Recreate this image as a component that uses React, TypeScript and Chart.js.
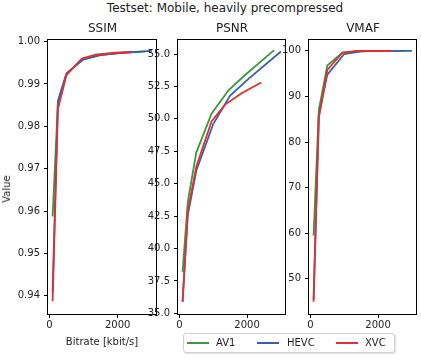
import React, { useEffect, useRef } from "react";
import { Chart, registerables } from "chart.js";

Chart.register(...registerables);

const FONT = "'DejaVu Sans', sans-serif";
const TEXT = "#222";

const codecNames = ["AV1", "HEVC", "XVC"];
const codecColors = ["#3a9a3a", "#3560b0", "#e03030"];

const av1Bitrate = [95, 250, 500, 950, 1450, 1950, 2800];
const hevcBitrate = [95, 250, 500, 1000, 1500, 2050, 3000];
const xvcBitrate = [95, 250, 500, 950, 1350, 1850, 2420];

const av1Ssim = [0.9587, 0.9855, 0.9923, 0.9957, 0.9968, 0.9972, 0.9977];
const hevcSsim = [0.941, 0.986, 0.9925, 0.9958, 0.9968, 0.9973, 0.9978];
const xvcSsim = [0.9387, 0.984, 0.9921, 0.996, 0.9969, 0.9973, 0.9976];

const av1Psnr = [38.2, 43.6, 47.4, 50.4, 52.2, 53.4, 55.3];
const hevcPsnr = [35.9, 42.6, 46.0, 49.6, 51.8, 53.1, 55.2];
const xvcPsnr = [35.9, 42.9, 46.3, 49.8, 51.1, 52.0, 52.8];

const av1Vmaf = [59.5, 87.0, 96.8, 99.6, 99.9, 100, 100];
const hevcVmaf = [45.5, 85.8, 94.8, 99.3, 99.9, 100, 100];
const xvcVmaf = [45.0, 85.3, 95.8, 99.6, 100, 100, 100];

const xTicks = [0, 2000];
const ssimTicks = [0.94, 0.95, 0.96, 0.97, 0.98, 0.99, 1.0];
const psnrTicks = [35, 37.5, 40, 42.5, 45, 47.5, 50, 52.5, 55];
const vmafTicks = [50, 60, 70, 80, 90, 100];

const bitrates = [av1Bitrate, hevcBitrate, xvcBitrate];

type PanelProps = {
  series: number[][];
  yMin: number;
  yMax: number;
  yTicks: number[];
  decimals: number;
  areaLeft: number;
  areaRight: number;
  yAxisWidth: number;
};

const TOP = 29;
const H = 330;
const PAD_TOP = 10;
const X_AXIS_H = 45;
const PAD_RIGHT = 4;

function Panel(p: PanelProps) {
  const ref = useRef<HTMLCanvasElement>(null);
  const canvasLeft = p.areaLeft - p.yAxisWidth;
  const canvasWidth = p.areaRight - canvasLeft + PAD_RIGHT;

  useEffect(() => {
    if (!ref.current) return;
    const frame = {
      id: "frame",
      afterDraw(chart: any) {
        const { left, top, right, bottom } = chart.chartArea;
        const ctx = chart.ctx;
        ctx.save();
        ctx.strokeStyle = "#000";
        ctx.lineWidth = 1;
        const l = Math.round(left) - 0.5;
        const t = Math.round(top) + 0.5;
        const r = Math.round(right) - 0.5;
        const b = Math.round(bottom) + 0.5;
        ctx.strokeRect(l, t, r - l, b - t);
        ctx.restore();
      },
    };
    const chart = new Chart(ref.current, {
      type: "line",
      data: {
        datasets: codecNames.map((name, i) => ({
          label: name,
          data: bitrates[i].map((x, j) => ({ x, y: p.series[i][j] })),
          borderColor: codecColors[i],
          backgroundColor: codecColors[i],
          borderWidth: 1.8,
          pointRadius: 0,
          tension: 0,
          fill: false,
          order: 2 - i,
        })),
      },
      options: {
        responsive: false,
        animation: false,
        devicePixelRatio: 1,
        layout: { padding: { top: PAD_TOP, right: PAD_RIGHT, bottom: 0, left: 0 } },
        plugins: {
          legend: { display: false },
          tooltip: { enabled: false },
          title: { display: false },
        },
        scales: {
          x: {
            type: "linear",
            min: -40,
            max: 3150,
            afterBuildTicks: (s: any) => {
              s.ticks = xTicks.map((v) => ({ value: v }));
            },
            afterFit: (s: any) => {
              s.height = X_AXIS_H;
            },
            grid: { drawOnChartArea: false, tickLength: 4, color: "#000" },
            border: { display: false },
            ticks: {
              padding: 1,
              color: TEXT,
              font: { size: 10, family: FONT },
              maxRotation: 0,
              autoSkip: false,
              callback: (v: any) => String(v),
            },
          },
          y: {
            type: "linear",
            min: p.yMin,
            max: p.yMax,
            afterBuildTicks: (s: any) => {
              s.ticks = p.yTicks.map((v) => ({ value: v }));
            },
            afterFit: (s: any) => {
              s.width = p.yAxisWidth;
            },
            grid: { drawOnChartArea: false, tickLength: 4, color: "#000" },
            border: { display: false },
            ticks: {
              padding: 4,
              color: TEXT,
              font: { size: 10, family: FONT },
              autoSkip: false,
              callback: (v: any) => Number(v).toFixed(p.decimals),
            },
          },
        },
      } as any,
      plugins: [frame],
    });
    return () => chart.destroy();
  }, []);

  return (
    <canvas
      ref={ref}
      width={canvasWidth}
      height={H}
      style={{ position: "absolute", left: canvasLeft, top: TOP, width: canvasWidth, height: H }}
    />
  );
}

function Label(props: { text: string; cx: number; cy: number; size: number; rotate?: boolean }) {
  return (
    <div
      style={{
        position: "absolute",
        left: props.cx,
        top: props.cy,
        transform: `translate(-50%, -50%)${props.rotate ? " rotate(-90deg)" : ""}`,
        fontFamily: FONT,
        fontSize: props.size,
        lineHeight: 1,
        color: TEXT,
        whiteSpace: "nowrap",
      }}
    >
      {props.text}
    </div>
  );
}

const legendItems = [
  { line: 3, text: 32 },
  { line: 73, text: 103 },
  { line: 152, text: 181 },
];

export default function App() {
  return (
    <div
      style={{
        position: "absolute",
        left: 0,
        top: 0,
        width: 421,
        height: 359,
        background: "#fff",
        overflow: "hidden",
      }}
    >
      <Panel
        series={[av1Ssim, hevcSsim, xvcSsim]}
        yMin={0.9357}
        yMax={1.0006}
        yTicks={ssimTicks}
        decimals={2}
        areaLeft={48}
        areaRight={157}
        yAxisWidth={48}
      />
      <Panel
        series={[av1Psnr, hevcPsnr, xvcPsnr]}
        yMin={34.95}
        yMax={56.16}
        yTicks={psnrTicks}
        decimals={1}
        areaLeft={178}
        areaRight={286}
        yAxisWidth={40}
      />
      <Panel
        series={[av1Vmaf, hevcVmaf, xvcVmaf]}
        yMin={42.3}
        yMax={102.6}
        yTicks={vmafTicks}
        decimals={0}
        areaLeft={309}
        areaRight={417}
        yAxisWidth={32}
      />
      <Label text="Testset: Mobile, heavily precompressed" cx={225} cy={8} size={12} />
      <Label text="SSIM" cx={102.5} cy={28} size={12} />
      <Label text="PSNR" cx={232} cy={28} size={12} />
      <Label text="VMAF" cx={363} cy={28} size={12} />
      <Label text="Value" cx={7} cy={189} size={10} rotate />
      <Label text="Bitrate [kbit/s]" cx={102} cy={342} size={10} />
      <div
        style={{
          position: "absolute",
          left: 183,
          top: 333,
          width: 210,
          height: 18,
          border: "1px solid #d0d0d0",
          borderRadius: 3,
          background: "#fff",
          boxShadow: "1px 1px 1px rgba(0,0,0,0.12)",
        }}
      >
        {codecNames.map((name, i) => (
          <React.Fragment key={name}>
            <div
              style={{
                position: "absolute",
                left: legendItems[i].line,
                top: 8,
                width: 22,
                height: 2,
                background: codecColors[i],
              }}
            />
            <div
              style={{
                position: "absolute",
                left: legendItems[i].text,
                top: 9,
                transform: "translateY(-50%)",
                fontFamily: FONT,
                fontSize: 10,
                lineHeight: 1,
                color: TEXT,
                whiteSpace: "nowrap",
              }}
            >
              {name}
            </div>
          </React.Fragment>
        ))}
      </div>
    </div>
  );
}
